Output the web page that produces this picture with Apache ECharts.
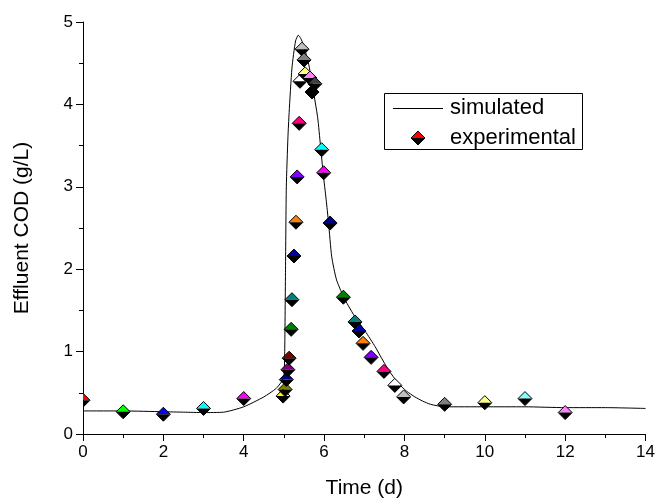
<!DOCTYPE html>
<html>
<head>
<meta charset="utf-8">
<script src="https://cdn.jsdelivr.net/npm/echarts@6/dist/echarts.min.js"></script>
<style>
html,body{margin:0;padding:0;background:#fff;}
#chart{width:658px;height:504px;}
</style>
</head>
<body>
<div id="chart"></div>
<script>
// Simulated curve
const simX = [0, 1, 2, 2.5, 3, 3.5, 4, 4.5, 4.8, 4.95, 5.0, 5.02, 5.04, 5.06, 5.1, 5.13, 5.2, 5.29, 5.36, 5.42, 5.49, 5.62, 5.73, 5.84, 5.91, 5.98, 6.05, 6.11, 6.19, 6.31, 6.48, 6.6, 6.77, 7.02, 7.27, 7.42, 7.6, 7.84, 8.05, 8.26, 8.45, 8.65, 9, 10, 11, 12, 13, 14];
const simY = [0.28, 0.28, 0.27, 0.265, 0.26, 0.265, 0.33, 0.45, 0.55, 0.64, 0.7, 1.0, 2.0, 3.0, 3.6, 3.9, 4.44, 4.77, 4.84, 4.8, 4.72, 4.48, 4.17, 3.84, 3.5, 3.15, 2.85, 2.57, 2.15, 1.87, 1.67, 1.56, 1.42, 1.25, 1.06, 0.93, 0.78, 0.62, 0.52, 0.45, 0.4, 0.36, 0.33, 0.33, 0.33, 0.32, 0.32, 0.31];

// Experimental points
const expX = [0, 1, 2, 3, 4, 4.98, 5.03, 5.06, 5.1, 5.13, 5.18, 5.2, 5.25, 5.3, 5.33, 5.38, 5.4, 5.45, 5.5, 5.53, 5.65, 5.77, 5.7, 5.94, 5.99, 6.15, 6.48, 6.77, 6.87, 6.97, 7.17, 7.49, 7.76, 7.98, 9, 10, 11, 12];
const expY = [0.41, 0.27, 0.24, 0.31, 0.43, 0.46, 0.54, 0.66, 0.78, 0.92, 1.27, 1.63, 2.16, 2.57, 3.12, 3.77, 4.28, 4.67, 4.54, 4.37, 4.32, 4.25, 4.15, 3.45, 3.17, 2.56, 1.66, 1.36, 1.25, 1.10, 0.93, 0.76, 0.59, 0.45, 0.36, 0.38, 0.43, 0.26];
const expColors = ['#ff0000', '#00ff00', '#0000ff', '#00ffff', '#ff00ff', '#ffff00', '#808000', '#000080', '#800080', '#800000', '#008000', '#008080', '#0000a0', '#ff8000', '#8000ff', '#ff0080', '#ffffff', '#c0c0c0', '#808080', '#ffff80', '#ff80ff', '#404040', '#000000', '#00ffff', '#ff00ff', '#000080', '#008000', '#008080', '#0000a0', '#ff8000', '#8000ff', '#ff0080', '#ffffff', '#c0c0c0', '#808080', '#ffff80', '#80ffff', '#ff80ff'];

const xTicks = [0, 2, 4, 6, 8, 10, 12, 14];
const yTicks = [0, 1, 2, 3, 4, 5];
const legendNames = ['simulated', 'experimental'];

const FONT = 'Liberation Sans, Arial, sans-serif';
const chart = echarts.init(document.getElementById('chart'), null, {renderer: 'canvas'});

function diamond(cx, cy, h, color) {
  return {
    type: 'group',
    children: [
      {type: 'polygon', shape: {points: [[cx - h, cy], [cx, cy - h], [cx + h, cy]]}, style: {fill: color}},
      {type: 'polygon', shape: {points: [[cx - h, cy], [cx + h, cy], [cx, cy + h]]}, style: {fill: '#000'}},
      {type: 'polygon', shape: {points: [[cx - h, cy], [cx, cy - h], [cx + h, cy], [cx, cy + h]]}, style: {fill: null, stroke: '#000', lineWidth: 1}}
    ]
  };
}

const legendGraphic = {
  type: 'group', z: 100,
  children: [
    {type: 'rect', shape: {x: 384.5, y: 93.5, width: 198, height: 56}, style: {fill: '#fff', stroke: '#000', lineWidth: 1}},
    {type: 'line', shape: {x1: 393, y1: 108.5, x2: 443, y2: 108.5}, style: {stroke: '#000', lineWidth: 1}},
    {type: 'text', x: 450, y: 108, style: {text: legendNames[0], font: '22px ' + FONT, fill: '#000', verticalAlign: 'middle', align: 'left'}},
    diamond(418, 138, 7, '#ff0000'),
    {type: 'text', x: 450, y: 138, style: {text: legendNames[1], font: '22px ' + FONT, fill: '#000', verticalAlign: 'middle', align: 'left'}}
  ]
};

const option = {
  backgroundColor: '#fff',
  animation: false,
  grid: {left: 83, right: 8, top: 22, bottom: 66, containLabel: false},
  xAxis: {
    type: 'value', min: xTicks[0], max: xTicks[xTicks.length - 1], interval: 2,
    name: 'Time (d)', nameLocation: 'middle', nameGap: 44,
    nameTextStyle: {fontFamily: FONT, fontSize: 21, color: '#000'},
    axisLine: {show: true, onZero: false, lineStyle: {color: '#000', width: 1}},
    axisTick: {show: true, inside: false, length: 7, lineStyle: {color: '#000'}},
    minorTick: {show: true, splitNumber: 2, length: 4, lineStyle: {color: '#000'}},
    axisLabel: {fontFamily: FONT, fontSize: 17, color: '#000', margin: 10},
    splitLine: {show: false}
  },
  yAxis: {
    type: 'value', min: yTicks[0], max: yTicks[yTicks.length - 1], interval: 1,
    name: 'Effluent COD (g/L)', nameLocation: 'middle', nameGap: 50, nameRotate: 90,
    nameTextStyle: {fontFamily: FONT, fontSize: 21, color: '#000'},
    axisLine: {show: true, onZero: false, lineStyle: {color: '#000', width: 1}},
    axisTick: {show: true, inside: false, length: 7, lineStyle: {color: '#000'}},
    minorTick: {show: true, splitNumber: 2, length: 4, lineStyle: {color: '#000'}},
    axisLabel: {fontFamily: FONT, fontSize: 17, color: '#000', margin: 10},
    splitLine: {show: false}
  },
  graphic: [legendGraphic],
  series: [
    {
      name: legendNames[0], type: 'line', symbol: 'none', smooth: 0.2,
      lineStyle: {color: '#000', width: 1},
      data: simX.map((x, i) => [x, simY[i]]),
      z: 2
    },
    {
      name: legendNames[1], type: 'custom', clip: true,
      data: expX.map((x, i) => [x, expY[i]]),
      renderItem: function (params, api) {
        const p = api.coord([api.value(0), api.value(1)]);
        return diamond(p[0], p[1], 7, expColors[params.dataIndex]);
      },
      z: 3
    }
  ]
};
chart.setOption(option);
</script>
</body>
</html>
